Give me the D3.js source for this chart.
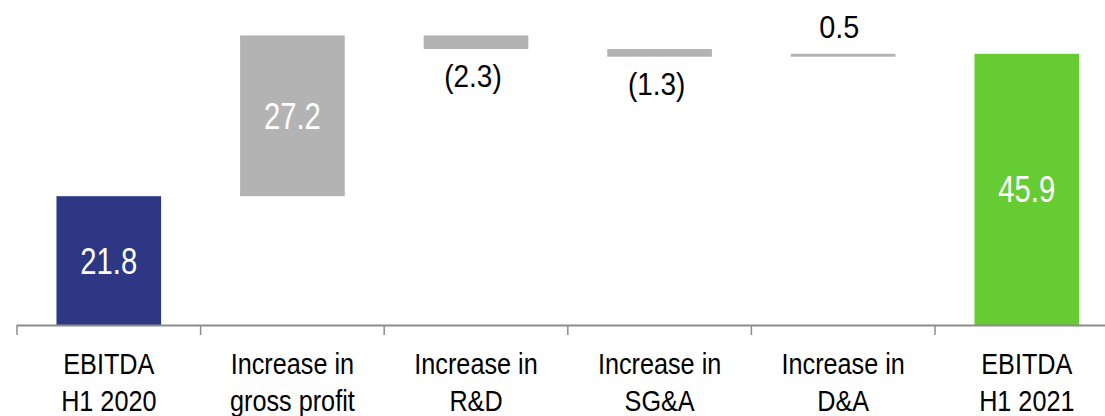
<!DOCTYPE html>
<html><head><meta charset="utf-8">
<script src="https://cdn.jsdelivr.net/npm/d3@7"></script>
<style>html,body{margin:0;padding:0;background:#fff;overflow:hidden}</style>
</head><body>
<svg id="c" width="1105" height="416"></svg>
<script>
const categories = [["EBITDA","H1 2020"],["Increase in","gross profit"],["Increase in","R&D"],["Increase in","SG&A"],["Increase in","D&A"],["EBITDA","H1 2021"]];
const values = [21.8, 27.2, -2.3, -1.3, 0.5, 45.9];
const kinds = ["total","delta","delta","delta","delta","total"];
const labels = ["21.8","27.2","(2.3)","(1.3)","0.5","45.9"];
const colors = {start:"#2e3784", delta:"#b3b3b3", end:"#66cc33"};

const fam = "'Liberation Sans', Arial, sans-serif";

const svg = d3.select("#c");
const x = d3.scaleBand().domain(d3.range(categories.length)).range([17, 17 + 6*183.6]).padding(0);
const y = d3.scaleLinear().domain([0, 55]).range([325, 0]);
const bw = x.bandwidth()*0.57;

let run = 0;
const bars = values.map((v,i)=>{
  let lo, hi, col;
  if(kinds[i]==="total"){ lo=0; hi=v; run=v; col = i===0?colors.start:colors.end; }
  else { lo=run; hi=run+v; run=hi; col=colors.delta; }
  return {i, v, y0:Math.min(lo,hi), y1:Math.max(lo,hi), col, label:labels[i], kind:kinds[i]};
});

svg.selectAll("rect.bar").data(bars).join("rect")
  .attr("x", d=>x(d.i)+(x.bandwidth()-bw)/2)
  .attr("width", bw)
  .attr("y", d=>y(d.y1))
  .attr("height", d=>Math.max(1,y(d.y0)-y(d.y1)))
  .attr("fill", d=>d.col);

const ax = svg.append("g");
ax.append("line").attr("x1",17).attr("x2",1105).attr("y1",325.5).attr("y2",325.5).attr("stroke","#8c8c8c").attr("stroke-width",2);
const ticks = d3.range(categories.length+1).map(i=> i<categories.length ? x(i) : x.range()[1]);
ax.selectAll("line.t").data(ticks).join("line")
  .attr("x1",d=>d).attr("x2",d=>d).attr("y1",325).attr("y2",335)
  .attr("stroke","#8c8c8c").attr("stroke-width",1.5);

function txt(g, xc, yb, s, size, fill, sx){
  g.append("text").attr("transform",`translate(${xc},${yb}) scale(${sx},1)`)
   .attr("text-anchor","middle").attr("font-family",fam).attr("font-size",size)
   .attr("fill",fill).text(s);
}
categories.forEach((c,i)=>{
  const xc = x(i)+x.bandwidth()/2;
  txt(svg, xc, 373.5, c[0], 29.5, "#000", 0.855);
  txt(svg, xc, 410.5, c[1], 29.5, "#000", 0.855);
});
bars.forEach(d=>{
  const xc = x(d.i)+x.bandwidth()/2;
  const h = y(d.y0)-y(d.y1);
  if(h>60){ txt(svg, xc, (y(d.y0)+y(d.y1))/2+13, d.label, 37, "#fff", 0.79); }
  else if(d.v<0){ txt(svg, xc-3, y(d.y0)+38, d.label, 31, "#000", 0.9); }
  else { txt(svg, xc-4, y(d.y1)-16, d.label, 32, "#000", 0.9); }
});
</script>
</body></html>
